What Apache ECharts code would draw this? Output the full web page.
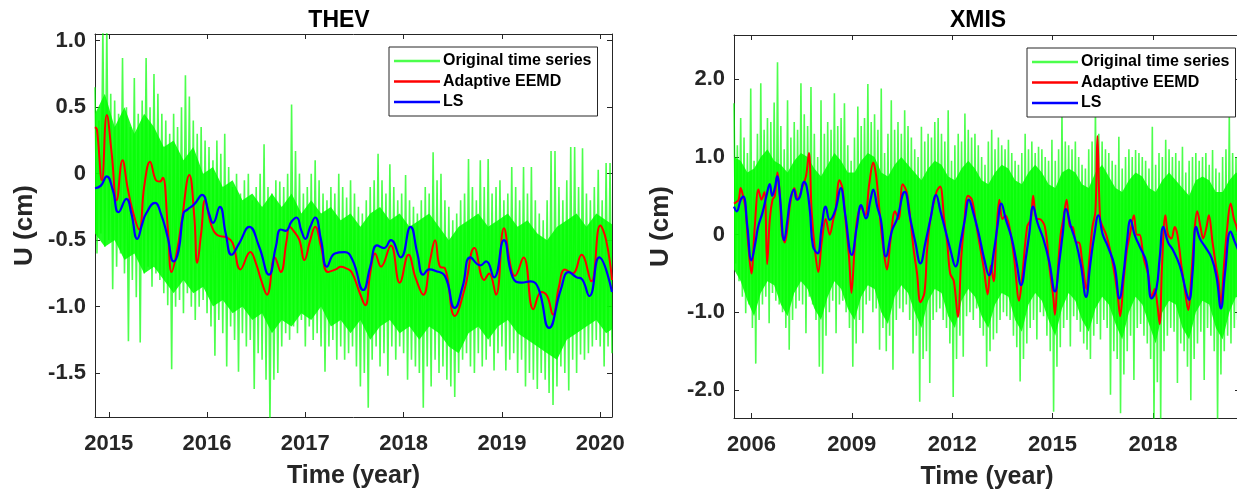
<!DOCTYPE html>
<html><head><meta charset="utf-8">
<script src="https://cdn.jsdelivr.net/npm/echarts@6/dist/echarts.min.js"></script>
<style>html,body{margin:0;padding:0;background:#fff}#c{width:1237px;height:495px}</style>
</head><body><div id="c"></div>
<script>
// ---------- THEV (left) ----------
const thevTitle = 'THEV';
const thevXTicks = [2015, 2016, 2017, 2018, 2019, 2020];
const thevYTicks = [-1.5, -1.0, -0.5, 0, 0.5, 1.0];
// Original series read as spike tops / spike bottoms on a 0.04-yr grid
const thevGreenStart = 2014.86, thevGreenStep = 0.04;
const thevGreenHi = [
 0.65,0.4,1.1,1.1,0.6,0.55,0.45,0.87,0.5,0.35,0.72,0.45,0.55,0.87,0.5,0.75,0.6,0.45,0.4,0.3,0.45,0.35,0.5,0.74,0.58,
 0.4,0.3,0.35,0.25,0.2,0.1,0.25,0.15,0.3,0.05,-0.1,0.0,-0.15,-0.05,0.0,-0.2,-0.1,0.0,0.22,-0.1,-0.15,-0.05,-0.06,-0.1,0.0,
 0.52,0.17,0.0,-0.15,-0.1,0.0,0.1,-0.05,-0.15,-0.2,-0.1,-0.15,0.0,-0.1,-0.18,-0.05,-0.15,-0.25,-0.3,-0.2,-0.1,-0.05,0.15,-0.05,-0.15,
 0.07,-0.1,-0.2,-0.15,-0.01,-0.2,-0.25,-0.3,-0.2,-0.1,-0.15,0.16,-0.05,0.0,-0.2,-0.25,-0.35,-0.3,-0.2,-0.15,0.11,-0.1,-0.2,0.1,-0.1,
 0.11,-0.15,-0.1,-0.05,-0.2,-0.15,0.05,-0.1,-0.2,0.05,-0.15,0.05,-0.2,-0.3,-0.35,-0.2,0.17,0.17,-0.1,-0.2,-0.05,0.2,0.2,-0.1,0.19,
 -0.15,-0.2,-0.1,0.03,-0.2,0.08,0.08];
const thevGreenLo = [
 -0.6,-0.45,-0.55,-0.5,-0.87,-0.7,-0.6,-0.75,-1.26,-0.8,-0.93,-1.27,-0.75,-0.7,-0.85,-0.75,-0.8,-0.9,-0.99,-1.47,-1.0,-0.95,-1.05,-0.9,-1.0,
 -1.1,-1.0,-0.95,-1.05,-1.15,-1.37,-1.1,-1.2,-1.45,-1.15,-1.25,-1.49,-1.2,-1.3,-1.25,-1.62,-1.35,-1.4,-1.55,-1.9,-1.55,-1.5,-1.3,-1.2,-1.25,
 -1.15,-1.2,-1.1,-1.3,-1.15,-1.25,-1.2,-1.3,-1.49,-1.3,-1.25,-1.4,-1.3,-1.4,-1.35,-1.3,-1.45,-1.6,-1.5,-1.76,-1.4,-1.3,-1.45,-1.35,-1.52,
 -1.3,-1.4,-1.3,-1.35,-1.55,-1.4,-1.45,-1.5,-1.76,-1.45,-1.6,-1.4,-1.5,-1.45,-1.55,-1.6,-1.68,-1.5,-1.4,-1.35,-1.45,-1.5,-1.35,-1.45,-1.4,
 -1.3,-1.48,-1.35,-1.3,-1.48,-1.4,-1.35,-1.5,-1.4,-1.6,-1.5,-1.55,-1.62,-1.5,-1.55,-1.65,-1.74,-1.6,-1.45,-1.5,-1.63,-1.4,-1.5,-1.36,-1.4,
 -1.35,-1.3,-1.25,-1.3,-1.45,-1.3,-1.35];
// dense (solid) part of the original series, top and bottom edge on a 0.1-yr grid
const thevCoreStart = 2014.86, thevCoreStep = 0.1;
const thevCoreTop = [
 0.45,0.6,0.35,0.5,0.3,0.45,0.35,0.2,0.25,0.1,
 0.2,0.0,0.05,-0.1,-0.05,-0.2,-0.15,-0.25,-0.15,-0.25,
 -0.15,-0.3,-0.2,-0.3,-0.25,-0.35,-0.3,-0.4,-0.3,-0.25,
 -0.35,-0.3,-0.4,-0.35,-0.3,-0.4,-0.5,-0.4,-0.35,-0.3,
 -0.4,-0.35,-0.3,-0.4,-0.35,-0.45,-0.5,-0.4,-0.35,-0.3,
 -0.4,-0.3,-0.35,-0.4];
const thevCoreBottom = [
 -0.45,-0.55,-0.5,-0.65,-0.6,-0.75,-0.7,-0.8,-0.9,-0.8,
 -0.9,-0.85,-1.0,-0.95,-1.05,-1.0,-1.1,-1.05,-1.2,-1.1,
 -1.15,-1.05,-1.1,-1.0,-1.15,-1.1,-1.2,-1.1,-1.25,-1.15,
 -1.1,-1.2,-1.15,-1.25,-1.15,-1.2,-1.3,-1.35,-1.2,-1.15,
 -1.25,-1.15,-1.1,-1.2,-1.25,-1.3,-1.35,-1.4,-1.25,-1.2,
 -1.15,-1.1,-1.2,-1.15];
const thevEEMD = [
 [2014.86,0.35],[2014.88,0.33],[2014.93,-0.05],[2014.98,0.44],[2015.03,0.15],[2015.08,-0.2],[2015.14,0.1],[2015.19,-0.1],[2015.24,-0.27],
 [2015.31,-0.42],[2015.36,-0.1],[2015.42,0.09],[2015.48,-0.05],[2015.52,-0.06],[2015.55,-0.03],[2015.6,-0.4],[2015.64,-0.74],[2015.69,-0.6],
 [2015.74,-0.37],[2015.82,-0.01],[2015.87,-0.32],[2015.9,-0.67],[2015.94,-0.45],[2015.98,-0.2],[2016.04,-0.38],[2016.1,-0.46],[2016.2,-0.48],
 [2016.26,-0.52],[2016.34,-0.72],[2016.44,-0.59],[2016.5,-0.68],[2016.55,-0.8],[2016.61,-0.91],[2016.69,-0.63],[2016.75,-0.74],[2016.81,-0.5],
 [2016.84,-0.4],[2016.88,-0.43],[2016.94,-0.5],[2016.99,-0.65],[2017.05,-0.5],[2017.1,-0.4],[2017.16,-0.55],[2017.23,-0.74],[2017.31,-0.72],
 [2017.36,-0.7],[2017.41,-0.71],[2017.47,-0.74],[2017.55,-0.89],[2017.61,-0.99],[2017.66,-0.75],[2017.71,-0.6],[2017.77,-0.7],[2017.87,-0.54],
 [2017.96,-0.82],[2018.05,-0.61],[2018.12,-0.78],[2018.2,-0.91],[2018.27,-0.65],[2018.32,-0.5],[2018.37,-0.7],[2018.42,-0.71],[2018.52,-1.07],
 [2018.62,-0.87],[2018.72,-0.56],[2018.82,-0.8],[2018.87,-0.75],[2018.94,-0.91],[2019.02,-0.41],[2019.09,-0.7],[2019.13,-0.77],[2019.22,-0.63],
 [2019.32,-1.02],[2019.4,-0.89],[2019.46,-0.92],[2019.52,-1.06],[2019.58,-0.85],[2019.64,-0.72],[2019.72,-0.75],[2019.81,-0.61],[2019.91,-0.81],
 [2020.0,-0.39],[2020.06,-0.5],[2020.12,-0.8]];
const thevLS = [
 [2014.86,-0.11],[2014.92,-0.09],[2014.98,-0.02],[2015.04,-0.12],[2015.1,-0.29],[2015.18,-0.19],[2015.23,-0.3],[2015.29,-0.49],[2015.34,-0.38],
 [2015.38,-0.3],[2015.47,-0.22],[2015.53,-0.3],[2015.6,-0.48],[2015.66,-0.66],[2015.71,-0.58],[2015.76,-0.3],[2015.8,-0.27],[2015.87,-0.23],
 [2015.95,-0.16],[2016.02,-0.3],[2016.06,-0.37],[2016.13,-0.25],[2016.19,-0.45],[2016.25,-0.61],[2016.33,-0.52],[2016.43,-0.4],[2016.53,-0.55],
 [2016.63,-0.76],[2016.7,-0.55],[2016.75,-0.42],[2016.8,-0.43],[2016.86,-0.36],[2016.91,-0.33],[2016.96,-0.43],[2017.0,-0.49],[2017.05,-0.4],
 [2017.1,-0.33],[2017.16,-0.5],[2017.22,-0.7],[2017.3,-0.6],[2017.4,-0.59],[2017.48,-0.65],[2017.59,-0.875],[2017.66,-0.7],[2017.73,-0.54],
 [2017.8,-0.56],[2017.87,-0.5],[2017.97,-0.63],[2018.07,-0.4],[2018.14,-0.6],[2018.2,-0.76],[2018.26,-0.72],[2018.32,-0.73],[2018.42,-0.77],
 [2018.52,-1.01],[2018.6,-0.85],[2018.68,-0.63],[2018.78,-0.69],[2018.84,-0.66],[2018.92,-0.78],[2019.02,-0.5],[2019.11,-0.78],[2019.2,-0.82],
 [2019.29,-0.81],[2019.37,-0.86],[2019.48,-1.16],[2019.6,-0.87],[2019.68,-0.74],[2019.76,-0.78],[2019.81,-0.79],[2019.89,-0.92],[2019.99,-0.63],
 [2020.12,-0.89]];

// ---------- XMIS (right) ----------
const xmisTitle = 'XMIS';
const xmisXTicks = [2006, 2009, 2012, 2015, 2018];
const xmisYTicks = [-2.0, -1.0, 0, 1.0, 2.0];
const xmisGreenStart = 2005.48, xmisGreenStep = 0.1;
const xmisGreenHi = [
 1.69,1.15,1.5,1.25,1.05,
 1.88,0.95,1.3,1.95,1.35,1.5,1.45,1.7,2.22,1.4,
 1.1,1.73,1.25,1.45,1.35,1.95,1.55,1.4,1.9,1.3,
 1.0,1.73,1.3,1.45,1.35,1.82,1.4,1.5,1.69,1.15,
 0.95,1.25,1.65,1.4,1.5,1.94,1.45,1.55,1.35,1.88,
 1.05,1.3,1.73,1.35,1.45,1.3,1.6,1.4,1.25,1.1,
 1.0,1.39,1.2,1.3,1.25,1.45,1.5,1.3,1.2,1.6,
 0.95,1.15,1.3,1.2,1.56,1.35,1.25,1.3,1.15,1.0,
 0.9,1.2,1.35,1.1,1.25,1.15,1.1,1.22,1.05,0.95,
 0.9,1.05,1.3,1.1,1.2,1.05,1.13,1.1,1.0,0.95,
 1.22,0.95,1.1,1.6,1.2,1.15,1.1,1.2,1.0,0.9,
 0.85,1.1,1.2,1.65,1.3,1.2,1.1,1.05,0.95,0.9,
 1.26,0.85,1.0,1.1,1.0,1.09,1.05,1.0,0.95,0.85,
 1.39,0.9,1.05,1.0,1.22,1.1,1.0,1.05,0.95,1.13,
 0.8,0.95,1.0,1.05,0.95,1.0,1.05,0.9,1.09,0.85,
 0.8,1.0,1.1,1.56,1.05,1.0];
const xmisGreenLo = [
 -0.37,-0.6,-0.8,-1.01,-0.9,
 -1.2,-1.66,-1.1,-0.9,-0.8,-1.14,-0.75,-0.85,-0.9,-1.0,
 -1.2,-1.48,-1.1,-0.95,-0.85,-0.9,-1.27,-0.8,-0.9,-1.1,
 -1.7,-1.79,-1.3,-1.0,-0.85,-1.27,-0.9,-0.85,-1.0,-1.2,
 -1.7,-1.4,-1.1,-1.27,-0.9,-0.85,-1.0,-0.95,-1.48,-1.2,
 -1.5,-1.3,-1.74,-1.1,-0.95,-1.0,-0.9,-1.1,-1.53,-1.3,
 -2.15,-1.6,-1.5,-1.91,-1.1,-1.0,-0.95,-1.1,-1.2,-1.4,
 -2.09,-1.6,-1.3,-1.57,-1.05,-1.0,-1.1,-0.95,-1.2,-1.3,
 -1.7,-1.5,-1.35,-1.27,-1.1,-1.0,-1.05,-1.1,-1.3,-1.45,
 -1.89,-1.6,-1.4,-1.2,-1.1,-1.35,-1.0,-1.05,-1.3,-1.5,
 -2.28,-1.7,-1.45,-1.2,-1.1,-1.44,-1.05,-1.1,-1.25,-1.4,
 -1.48,-1.6,-1.3,-1.15,-1.35,-1.1,-1.2,-2.06,-1.5,-1.6,
 -2.3,-1.8,-1.5,-1.3,-1.87,-1.2,-1.15,-1.3,-1.4,-1.6,
 -2.4,-1.9,-2.4,-1.5,-1.3,-1.2,-1.25,-1.91,-1.4,-1.5,
 -1.7,-2.13,-1.6,-1.4,-1.25,-1.87,-1.2,-1.3,-1.5,-2.4,
 -1.8,-1.5,-1.3,-1.4,-1.2,-1.1];
const xmisCoreStart = 2005.48, xmisCoreStep = 0.2;
const xmisCoreTop = [
 1.0,0.95,0.8,
 0.85,1.0,1.1,0.95,0.9,
 0.8,0.95,1.05,1.0,0.85,
 0.75,0.9,1.05,0.95,0.8,
 0.8,0.95,1.05,1.0,0.8,
 0.75,0.9,1.0,0.9,0.8,
 0.7,0.85,0.95,0.9,0.75,
 0.7,0.85,0.95,0.85,0.7,
 0.65,0.8,0.9,0.85,0.7,
 0.65,0.8,0.9,0.8,0.65,
 0.6,0.8,0.85,0.8,0.65,
 0.6,0.8,0.9,0.75,0.6,
 0.55,0.7,0.8,0.75,0.6,
 0.55,0.7,0.8,0.7,0.6,
 0.5,0.7,0.75,0.7,0.55,
 0.55,0.7,0.8,0.75];
const xmisCoreBottom = [
 -0.45,-0.6,-0.85,
 -1.05,-0.75,-0.6,-0.65,-0.9,
 -1.05,-0.75,-0.6,-0.7,-0.95,
 -1.1,-0.8,-0.6,-0.7,-0.95,
 -1.1,-0.8,-0.65,-0.7,-1.0,
 -1.15,-0.8,-0.65,-0.75,-1.0,
 -1.2,-0.85,-0.7,-0.75,-1.05,
 -1.2,-0.85,-0.7,-0.8,-1.05,
 -1.2,-0.9,-0.75,-0.8,-1.1,
 -1.25,-0.9,-0.75,-0.85,-1.1,
 -1.3,-0.95,-0.75,-0.85,-1.1,
 -1.25,-0.95,-0.8,-0.9,-1.15,
 -1.35,-1.0,-0.8,-0.9,-1.15,
 -1.4,-1.0,-0.85,-0.9,-1.2,
 -1.35,-1.0,-0.85,-0.9,-1.2,
 -1.35,-1.0,-0.8,-0.85];
const xmisEEMD = [
 [2005.48,0.4],[2005.55,0.42],[2005.62,0.45],[2005.68,0.6],[2005.75,0.5],[2005.82,0.35],[2005.9,-0.1],[2006.0,-0.5],[2006.1,0.1],[2006.21,0.58],
 [2006.3,0.45],[2006.39,0.55],[2006.47,-0.38],[2006.55,0.2],[2006.63,0.45],[2006.7,0.5],[2006.78,0.8],[2006.85,0.5],[2006.92,0.0],[2007.0,-0.1],
 [2007.08,0.1],[2007.16,0.4],[2007.28,0.6],[2007.39,0.45],[2007.51,0.6],[2007.63,0.75],[2007.72,1.05],[2007.8,0.3],[2007.9,-0.2],[2008.0,-0.48],
 [2008.1,-0.1],[2008.22,0.2],[2008.34,0.0],[2008.45,0.2],[2008.51,0.3],[2008.63,0.7],[2008.72,0.6],[2008.81,0.2],[2008.92,-0.3],[2008.99,-0.75],
 [2009.08,-0.2],[2009.16,0.2],[2009.28,0.35],[2009.4,0.25],[2009.52,0.65],[2009.64,0.93],[2009.73,0.75],[2009.87,0.1],[2009.95,-0.2],[2010.05,-0.45],
 [2010.15,-0.1],[2010.29,0.3],[2010.4,0.2],[2010.52,0.65],[2010.64,0.55],[2010.75,0.2],[2010.85,-0.2],[2010.95,-0.5],[2011.05,-0.87],[2011.17,-0.75],
 [2011.25,-0.2],[2011.35,0.2],[2011.53,0.55],[2011.64,0.62],[2011.76,0.2],[2011.85,-0.1],[2011.94,-0.5],[2012.05,-0.6],[2012.17,-1.06],[2012.27,-0.3],
 [2012.35,0.1],[2012.47,0.5],[2012.59,0.45],[2012.71,0.15],[2012.85,-0.2],[2012.95,-0.45],[2013.06,-0.77],[2013.15,-0.4],[2013.24,-0.6],[2013.32,0.0],
 [2013.41,0.45],[2013.5,0.2],[2013.59,0.25],[2013.71,0.1],[2013.85,-0.3],[2014.0,-0.85],[2014.1,-0.5],[2014.24,0.1],[2014.35,0.2],[2014.42,0.5],
 [2014.52,0.2],[2014.6,0.2],[2014.77,0.1],[2014.9,-0.4],[2015.02,-0.8],[2015.07,-1.03],[2015.15,-0.5],[2015.24,0.0],[2015.32,0.2],[2015.42,0.45],
 [2015.52,0.1],[2015.6,0.1],[2015.7,-0.1],[2015.78,-0.1],[2015.9,-0.4],[2016.01,-0.7],[2016.1,-0.3],[2016.19,0.1],[2016.28,0.3],[2016.34,1.27],
 [2016.42,0.2],[2016.5,0.1],[2016.6,0.0],[2016.72,-0.2],[2016.85,-0.5],[2016.95,-0.8],[2017.02,-1.05],[2017.12,-0.6],[2017.22,-0.2],[2017.31,0.0],
 [2017.43,0.25],[2017.52,0.0],[2017.6,0.0],[2017.72,-0.3],[2017.85,-0.5],[2017.96,-0.8],[2018.05,-0.7],[2018.13,-0.9],[2018.2,-1.15],[2018.27,-0.4],
 [2018.37,0.25],[2018.45,0.0],[2018.55,-0.05],[2018.65,0.1],[2018.73,0.0],[2018.85,-0.4],[2018.95,-0.7],[2019.05,-0.97],[2019.15,-0.5],[2019.25,0.1],
 [2019.32,0.3],[2019.42,0.1],[2019.5,-0.05],[2019.6,0.1],[2019.67,0.25],[2019.78,-0.1],[2019.9,-0.45],[2019.96,-0.6],[2020.03,-0.9],[2020.12,-0.4],
 [2020.22,0.1],[2020.32,0.4],[2020.42,0.2],[2020.5,0.1],[2020.6,-0.1]];
const xmisLS = [
 [2005.48,0.36],[2005.56,0.3],[2005.68,0.45],[2005.76,0.49],[2005.88,0.1],[2006.0,-0.33],[2006.12,-0.1],[2006.2,0.1],[2006.33,0.28],[2006.45,0.5],
 [2006.55,0.65],[2006.62,0.5],[2006.7,0.6],[2006.77,0.75],[2006.85,0.5],[2006.98,-0.07],[2007.08,0.2],[2007.16,0.45],[2007.27,0.58],[2007.36,0.45],
 [2007.45,0.49],[2007.57,0.68],[2007.65,0.62],[2007.75,0.3],[2007.84,-0.15],[2007.98,-0.24],[2008.1,0.1],[2008.22,0.36],[2008.34,0.19],[2008.51,0.32],
 [2008.67,0.6],[2008.8,0.27],[2009.0,-0.26],[2009.15,0.1],[2009.28,0.38],[2009.42,0.21],[2009.56,0.45],[2009.64,0.58],[2009.76,0.36],[2009.87,0.19],
 [2010.02,-0.28],[2010.2,0.05],[2010.35,0.2],[2010.58,0.55],[2010.75,0.2],[2010.9,-0.1],[2011.05,-0.37],[2011.2,-0.1],[2011.35,0.2],[2011.52,0.51],
 [2011.65,0.3],[2011.8,0.05],[2011.95,-0.2],[2012.1,-0.41],[2012.25,-0.1],[2012.38,0.2],[2012.5,0.45],[2012.62,0.3],[2012.8,0.0],[2012.95,-0.3],
 [2013.1,-0.52],[2013.25,-0.2],[2013.35,0.1],[2013.47,0.4],[2013.6,0.2],[2013.78,-0.05],[2013.92,-0.35],[2014.06,-0.65],[2014.2,-0.3],[2014.3,0.0],
 [2014.42,0.36],[2014.55,0.15],[2014.72,-0.05],[2014.9,-0.35],[2015.07,-0.73],[2015.2,-0.35],[2015.3,0.0],[2015.4,0.33],[2015.55,0.1],[2015.7,-0.1],
 [2015.85,-0.4],[2016.0,-0.8],[2016.12,-0.4],[2016.25,0.0],[2016.37,0.25],[2016.5,0.0],[2016.65,-0.15],[2016.85,-0.4],[2017.0,-0.82],[2017.12,-0.5],
 [2017.22,-0.1],[2017.33,0.19],[2017.45,0.0],[2017.6,-0.15],[2017.8,-0.35],[2017.96,-0.82],[2018.1,-0.7],[2018.2,-0.3],[2018.31,0.1],[2018.45,-0.1],
 [2018.6,-0.2],[2018.8,-0.4],[2019.0,-0.75],[2019.08,-0.84],[2019.18,-0.5],[2019.29,0.1],[2019.4,-0.05],[2019.55,-0.15],[2019.75,-0.3],[2019.9,-0.55],
 [2020.03,-0.95],[2020.15,-0.5],[2020.32,0.04],[2020.45,-0.1],[2020.55,-0.2]];

const seriesNames = ['Original time series', 'Adaptive EEMD', 'LS'];
const xName = 'Time (year)', yName = 'U (cm)';

// ---------- build ----------
function zigzag(start, step, hi, lo) {
  const out = [], n = Math.min(hi.length, lo.length);
  for (let i = 0; i < n; i++) {
    const t = start + i * step;
    out.push([t, hi[i]]);
    out.push([t + step / 2, lo[i]]);
  }
  return out;
}
const FONT = "'Liberation Sans', Arial, sans-serif";
const AX = '#262626';
const GREEN = 'rgba(0,255,0,0.7)', CORE = 'rgba(0,255,0,0.88)', RED = '#ff0000', BLUE = '#0000ff';
const fmt = v => (Math.abs(v) < 1e-9 ? '0' : v.toFixed(1));

function axesFor(gi, xr, yr, xt, yt, yNameGap) {
  const lab = {fontFamily: FONT, fontWeight: 'bold', fontSize: 22, color: AX};
  const line = {show: true, onZero: false, lineStyle: {color: AX, width: 1}};
  const xs = [
    {gridIndex: gi, type: 'value', min: xr[0], max: xr[1], position: 'bottom',
     axisLine: line, splitLine: {show: false},
     axisTick: {inside: true, length: 5, customValues: xt, lineStyle: {color: AX}},
     axisLabel: Object.assign({margin: 16, customValues: xt, formatter: v => String(Math.round(v))}, lab),
     name: xName, nameLocation: 'middle', nameGap: 47,
     nameTextStyle: {fontFamily: FONT, fontWeight: 'bold', fontSize: 25, color: AX}},
    {gridIndex: gi, type: 'value', min: xr[0], max: xr[1], position: 'top',
     axisLine: line, splitLine: {show: false},
     axisTick: {inside: true, length: 5, customValues: xt, lineStyle: {color: AX}},
     axisLabel: {show: false}}
  ];
  const ys = [
    {gridIndex: gi, type: 'value', min: yr[0], max: yr[1], position: 'left',
     axisLine: line, splitLine: {show: false},
     axisTick: {inside: true, length: 5, customValues: yt, lineStyle: {color: AX}},
     axisLabel: Object.assign({margin: 9, customValues: yt, formatter: fmt}, lab),
     name: yName, nameLocation: 'middle', nameGap: yNameGap, nameRotate: 90,
     nameTextStyle: {fontFamily: FONT, fontWeight: 'bold', fontSize: 26, color: AX}},
    {gridIndex: gi, type: 'value', min: yr[0], max: yr[1], position: 'right',
     axisLine: line, splitLine: {show: false},
     axisTick: {inside: true, length: 5, customValues: yt, lineStyle: {color: AX}},
     axisLabel: {show: false}}
  ];
  return {xs, ys};
}
const L = axesFor(0, [2014.86, 2020.12], [-1.83, 1.05], thevXTicks, thevYTicks, 57);
const R = axesFor(1, [2005.48, 2020.6], [-2.36, 2.57], xmisXTicks, xmisYTicks, 60);

function line(name, data, color, width, ax, smooth) {
  return {type: 'line', name, data, xAxisIndex: ax, yAxisIndex: ax, showSymbol: false, symbol: 'none',
    smooth, clip: true, lineStyle: {color, width}, itemStyle: {color}, animation: false, silent: true};
}
function band(start, step, top, bottom, ax) {
  const n = Math.min(top.length, bottom.length);
  const tp = [], bt = [];
  for (let i = 0; i < n; i++) { tp.push([start + i * step, top[i]]); bt.push([start + i * step, bottom[i]]); }
  return {type: 'custom', xAxisIndex: ax, yAxisIndex: ax, data: [0], silent: true, clip: true, animation: false,
    renderItem: (params, api) => {
      const pts = tp.map(p => api.coord(p)).concat(bt.slice().reverse().map(p => api.coord(p)));
      return {type: 'polygon', shape: {points: pts}, style: {fill: CORE}};
    }};
}
function legend(left, top) {
  return {left, top, orient: 'vertical', selectedMode: false,
    data: seriesNames.map(n => ({name: n, icon: 'rect'})),
    itemWidth: 46, itemHeight: 2.5, itemGap: 4.5, padding: [6, 6, 6, 5],
    borderColor: AX, borderWidth: 1, backgroundColor: '#fff',
    textStyle: {fontFamily: FONT, fontWeight: 'bold', fontSize: 16, color: '#000', padding: [0, 0, 0, -2]}};
}

const option = {
  backgroundColor: '#fff',
  animation: false,
  title: [
    {text: thevTitle, left: 339, top: 9, textAlign: 'center', padding: 0,
     textStyle: {fontFamily: FONT, fontWeight: 'bold', fontSize: 23, color: '#000'}},
    {text: xmisTitle, left: 978, top: 9, textAlign: 'center', padding: 0,
     textStyle: {fontFamily: FONT, fontWeight: 'bold', fontSize: 23, color: '#000'}}
  ],
  grid: [
    {left: 95, top: 34, width: 517, height: 383, outerBoundsMode: 'none', containLabel: false},
    {left: 734, top: 35, width: 506, height: 383, outerBoundsMode: 'none', containLabel: false}
  ],
  xAxis: [...L.xs, ...R.xs],
  yAxis: [...L.ys, ...R.ys],
  legend: [legend(389, 47), legend(1027, 48)],
  series: [
    band(thevCoreStart, thevCoreStep, thevCoreTop, thevCoreBottom, 0),
    line(seriesNames[0], zigzag(thevGreenStart, thevGreenStep, thevGreenHi, thevGreenLo), GREEN, 1.6, 0, false),
    line(seriesNames[1], thevEEMD, RED, 2, 0, 0.45),
    line(seriesNames[2], thevLS, BLUE, 2.2, 0, 0.5),
    band(xmisCoreStart, xmisCoreStep, xmisCoreTop, xmisCoreBottom, 2),
    line(seriesNames[0], zigzag(xmisGreenStart, xmisGreenStep, xmisGreenHi, xmisGreenLo), GREEN, 1.6, 2, false),
    line(seriesNames[1], xmisEEMD, RED, 2, 2, 0.35),
    line(seriesNames[2], xmisLS, BLUE, 2.2, 2, 0.45)
  ]
};
const chart = echarts.init(document.getElementById('c'), null, {renderer: 'canvas'});
chart.setOption(option);
</script></body></html>
